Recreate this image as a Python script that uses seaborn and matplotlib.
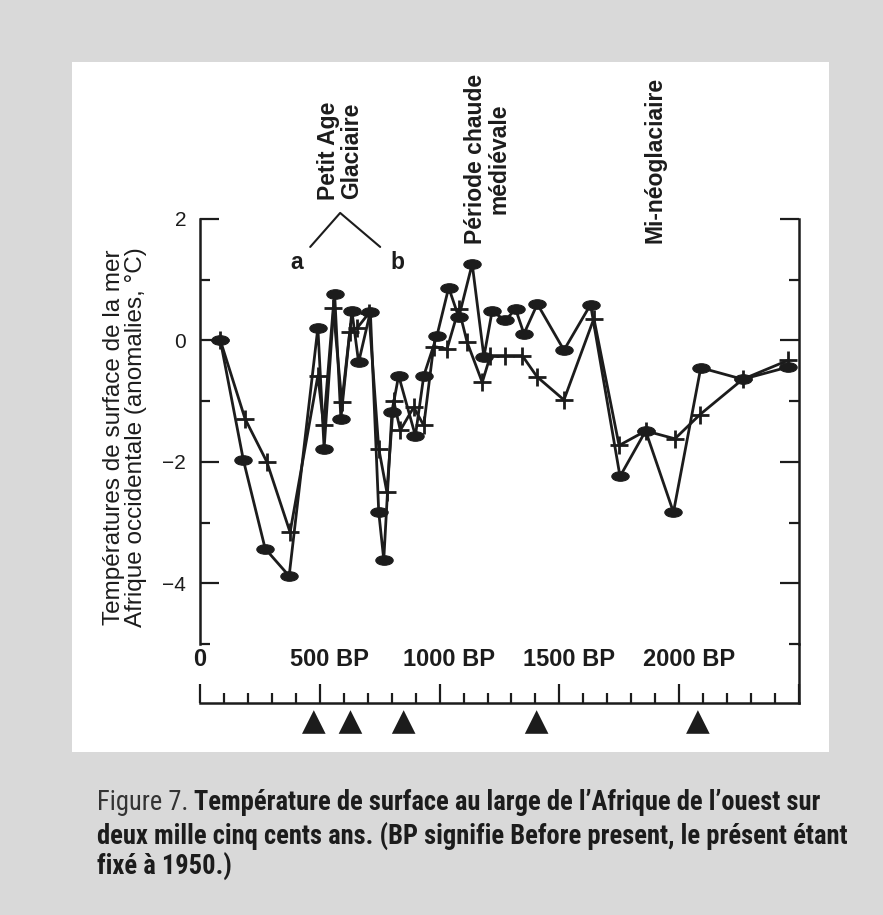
import numpy as np
import pandas as pd
import matplotlib
matplotlib.use("Agg")
import matplotlib.pyplot as plt
import seaborn as sns
from matplotlib.markers import MarkerStyle
from matplotlib.transforms import Affine2D, blended_transform_factory
from matplotlib.patches import Rectangle
from matplotlib import font_manager

# ---------------- data ----------------
# Series with filled (elliptic) markers: years BP and SST anomaly (°C)
years_a = [85, 181, 272, 372, 492, 518, 562, 588, 634, 662, 711, 746, 767, 801, 829,
           899, 934, 989, 1038, 1080, 1136, 1185, 1219, 1275, 1317, 1352, 1408, 1519,
           1630, 1753, 1860, 1976, 2090, 2265, 2453]
sst_a = [0.0, -1.97, -3.43, -3.88, 0.21, -1.78, 0.76, -1.29, 0.48, -0.36, 0.47, -2.83,
         -3.61, -1.18, -0.58, -1.57, -0.58, 0.08, 0.87, 0.38, 1.26, -0.27, 0.48, 0.33,
         0.52, 0.11, 0.60, -0.16, 0.59, -2.24, -1.49, -2.83, -0.45, -0.64, -0.44]

# Series with "+" markers
years_b = [85, 188, 279, 376, 492, 516, 556, 592, 625, 655, 705, 746, 780, 808, 836,
           892, 934, 975, 1031, 1080, 1115, 1178, 1212, 1275, 1345, 1407, 1519, 1644,
           1749, 1860, 1982, 2087, 2265, 2453]
sst_b = [0.0, -1.29, -2.0, -3.16, -0.58, -1.40, 0.53, -1.02, 0.14, 0.20, 0.45, -1.78,
         -2.5, -0.99, -1.48, -1.10, -1.40, -0.10, -0.14, 0.52, -0.03, -0.69, -0.25,
         -0.25, -0.25, -0.60, -0.98, 0.36, -1.73, -1.49, -1.62, -1.22, -0.64, -0.33]

# dated levels (triangles under the time axis)
triangle_years = [475, 628, 850, 1405, 2078]

# axes / tick definitions
y_major_ticks = [-4, -2, 0, 2]
y_tick_labels = ["\u22124", "\u22122", "0", "2"]
y_minor_ticks = [-5, -3, -1, 1]
x_major_ticks = [0, 500, 1000, 1500, 2000, 2500]
x_tick_labels = ["0", "500 BP", "1000 BP", "1500 BP", "2000 BP"]
x_minor_ticks = list(range(100, 2500, 100))

ylabel_text = "Températures de surface de la mer\nAfrique occidentale (anomalies, °C)"
period_labels = ["Petit Age\nGlaciaire", "Période chaude\nmédiévale", "Mi-néoglaciaire"]
period_years = [584, 1198, 1899]
caption_prefix = "Figure 7."
caption_lines = ["Température de surface au large de l’Afrique de l’ouest sur",
                 "deux mille cinq cents ans. (BP signifie Before present, le présent étant",
                 "fixé à 1950.)"]

# ---------------- style ----------------
sns.set_style("white")
plt.rcParams["font.family"] = ["Liberation Sans", "DejaVu Sans"]
INK = "#1c1c1c"
BG = "#d9d9d9"

W, H = 883, 915
fig = plt.figure(figsize=(W / 100, H / 100), dpi=100, facecolor=BG)

def fx(px):
    return px / W

def fy(py):
    return 1 - py / H

# white panel
fig.add_artist(Rectangle((fx(72), fy(752)), fx(829) - fx(72), fy(62) - fy(752),
                         transform=fig.transFigure, facecolor="white",
                         edgecolor="none", zorder=-1))

# ---------------- main axes ----------------
L, R, T, B = 200, 799, 219, 644
ax = fig.add_axes([fx(L), fy(B), fx(R) - fx(L), fy(T) - fy(B)])
ax.patch.set_visible(False)

ell = MarkerStyle("o", transform=Affine2D().scale(1.0, 0.55))
sns.lineplot(x=years_a, y=sst_a, ax=ax, color=INK, lw=2.0, marker=ell,
             markersize=12.5, markerfacecolor=INK, markeredgecolor=INK,
             markeredgewidth=0.8, estimator=None, sort=False, zorder=3)
sns.lineplot(x=years_b, y=sst_b, ax=ax, color=INK, lw=2.0, marker="+",
             markersize=13, markeredgecolor=INK, markeredgewidth=2.0,
             estimator=None, sort=False, zorder=3)

ax.set_xlim(0, 2500)
ax.set_ylim(-5, 2)
ax.set_xticks([])
ax.set_yticks(y_major_ticks)
ax.set_yticklabels(y_tick_labels)
ax.set_yticks(y_minor_ticks, minor=True)
ax.tick_params(axis="y", which="both", direction="in", left=True, right=True,
               labelleft=True, labelright=False, width=1.6, color=INK,
               labelsize=15, labelcolor=INK, pad=10)
ax.tick_params(axis="y", which="major", length=14)
ax.tick_params(axis="y", which="minor", length=7)
for s in ["top", "bottom"]:
    ax.spines[s].set_visible(False)
for s in ["left", "right"]:
    ax.spines[s].set_visible(True)
    ax.spines[s].set_color(INK)
    ax.spines[s].set_linewidth(1.8)
ax.set_xlabel("")
ax.set_ylabel(ylabel_text, fontsize=17.5, color=INK, linespacing=0.97)
ax.yaxis.label.set_va("center")
ax.yaxis.label.set_ha("center")
ax.yaxis.set_label_coords((125 - L) / (R - L), (B - 437) / (B - T))

# period annotations above the plot
bt = blended_transform_factory(ax.transData, ax.transAxes)
period_y_px = [151, 159, 160]
for lab, yr, ypx in zip(period_labels, period_years, period_y_px):
    ax.text(yr, (B - ypx) / (B - T), lab, transform=bt, rotation=90, ha="center",
            va="center", multialignment="center", fontsize=16.5, fontweight="bold",
            color=INK, linespacing=1.0, clip_on=False)

# "a" / "b" bracket for the Little Ice Age
ax.plot([460, 585, 752], [1.54, 2.1, 1.54], color=INK, lw=1.5, clip_on=False)
ax.text(405, 1.29, "a", ha="center", va="center", fontsize=16.5,
        fontweight="bold", color=INK)
ax.text(823, 1.29, "b", ha="center", va="center", fontsize=16.5,
        fontweight="bold", color=INK)

# ---------------- time axis ----------------
B2 = 703
ax2 = fig.add_axes([fx(L), fy(B2), fx(R) - fx(L), fy(B) - fy(B2)])
ax2.patch.set_visible(False)
ax2.set_xlim(0, 2500)
ax2.set_ylim(0, 1)
ax2.set_yticks([])
ax2.set_xticks(x_major_ticks)
ax2.set_xticklabels([])
ax2.set_xticks(x_minor_ticks, minor=True)
ax2.tick_params(axis="x", which="both", direction="in", bottom=True, top=False,
                width=1.6, color=INK, labelbottom=False)
ax2.tick_params(axis="x", which="major", length=14)
ax2.tick_params(axis="x", which="minor", length=7)
for s in ["top", "left"]:
    ax2.spines[s].set_visible(False)
for s in ["bottom", "right"]:
    ax2.spines[s].set_visible(True)
    ax2.spines[s].set_color(INK)
    ax2.spines[s].set_linewidth(1.8)

label_y = (B2 - 660) / (B2 - B)
for i, (tk, lab) in enumerate(zip(x_major_ticks, x_tick_labels)):
    off = 0 if i == 0 else 40
    ax2.text(tk + off, label_y, lab, ha="center", va="center", fontsize=17,
             fontweight="bold", color=INK)

tri_y = np.full(len(triangle_years), (B2 - 722) / (B2 - B))
sns.scatterplot(x=triangle_years, y=tri_y, ax=ax2, marker="^", s=17 ** 2,
                color=INK, edgecolor="none", clip_on=False, legend=False)
ax2.set_xlabel("")
ax2.set_ylabel("")

# ---------------- caption ----------------
cap_family = "Liberation Sans"
for name in ["Liberation Sans Narrow", "Roboto Condensed", "Open Sans Condensed",
             "Arial Narrow", "Liberation Sans"]:
    try:
        font_manager.findfont(font_manager.FontProperties(family=name),
                              fallback_to_default=False)
        cap_family = name
        break
    except Exception:
        continue

renderer = fig.canvas.get_renderer()
x0 = fx(97)
cap_y = [803, 837, 867]
t2 = fig.text(x0, fy(cap_y[1]), caption_lines[1], fontsize=18, fontweight="bold",
              family=[cap_family, "DejaVu Sans"], color=INK, va="center", ha="left")
w2 = t2.get_window_extent(renderer).width
fs = 18 * (847 - 97) / w2
t2.set_fontsize(fs)
tp = fig.text(x0, fy(cap_y[0]), caption_prefix, fontsize=fs, fontweight="normal",
              family=[cap_family, "DejaVu Sans"], color="#333333", va="center", ha="left")
wp = tp.get_window_extent(renderer).width
fig.text(x0 + fx(wp + 6), fy(cap_y[0]), caption_lines[0], fontsize=fs,
         fontweight="bold", family=[cap_family, "DejaVu Sans"], color=INK,
         va="center", ha="left")
fig.text(x0, fy(cap_y[2]), caption_lines[2], fontsize=fs, fontweight="bold",
         family=[cap_family, "DejaVu Sans"], color=INK, va="center", ha="left")

fig.savefig("out.png", dpi=100, facecolor=BG)
